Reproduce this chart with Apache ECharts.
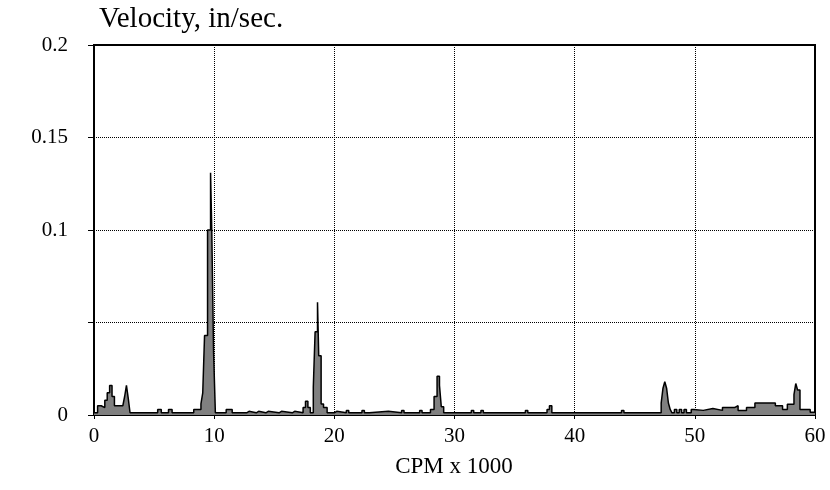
<!DOCTYPE html>
<html>
<head>
<meta charset="utf-8">
<script src="https://cdn.jsdelivr.net/npm/echarts@6/dist/echarts.min.js"></script>
<style>
  html, body { margin: 0; padding: 0; background: #fff; }
  #chart { width: 830px; height: 490px; }
</style>
</head>
<body>
<div id="chart"></div>
<script>
// spectrum breakpoints: frequency (CPM x 1000) and velocity held until next point
var freq = [0, 0.3, 0.6, 0.9, 1.1, 1.3, 1.5, 1.7, 2.4, 2.55, 2.7, 2.85, 3.0,
  5.3, 5.6, 6.2, 6.5, 8.3, 8.9, 9.05, 9.2, 9.45, 9.7, 9.8, 9.95, 10.1,
  11.0, 11.5, 12.7, 12.9, 13.5, 13.7, 14.3, 14.5, 15.4, 15.6, 16.5, 16.7,
  17.4, 17.6, 17.8, 18.0, 18.25, 18.4, 18.6, 18.7, 18.9, 19.1, 19.4,
  20.0, 20.2, 21.0, 21.2, 22.3, 22.5, 22.9, 24.5, 25.6, 25.8, 27.1, 27.3,
  28.0, 28.3, 28.55, 28.75, 28.9, 29.1, 31.4, 31.6, 32.2, 32.4, 35.9, 36.1,
  37.7, 37.9, 38.1, 43.9, 44.1, 47.2, 47.35, 47.5, 47.65, 47.8, 47.95, 48.1,
  48.3, 48.5, 48.7, 48.9, 49.1, 49.3, 49.7, 49.9, 50.7, 51.5, 52.3, 53.3,
  53.6, 54.3, 55.0, 56.7, 57.3, 57.7, 58.25, 58.4, 58.55, 58.75, 59.6, 60];
var vel = [0.0012, 0.005, 0.004, 0.008, 0.012, 0.016, 0.01, 0.005, 0.004, 0.01, 0.016, 0.009, 0.0012,
  0.003, 0.0012, 0.003, 0.0012, 0.003, 0.006, 0.012, 0.043, 0.1, 0.131, 0.1, 0.034, 0.0012,
  0.003, 0.0012, 0.002, 0.0012, 0.002, 0.0012, 0.002, 0.0012, 0.002, 0.0012, 0.002, 0.0012,
  0.004, 0.0075, 0.004, 0.0012, 0.015, 0.045, 0.061, 0.032, 0.006, 0.004, 0.0012,
  0.002, 0.0012, 0.0025, 0.0012, 0.0025, 0.0012, 0.002, 0.0012, 0.0025, 0.0012, 0.0025, 0.0012,
  0.003, 0.01, 0.021, 0.016, 0.0045, 0.0012, 0.0025, 0.0012, 0.0025, 0.0012, 0.0025, 0.0012,
  0.003, 0.005, 0.0012, 0.0025, 0.0012, 0.0065, 0.0145, 0.018, 0.0145, 0.0065, 0.003, 0.0012,
  0.003, 0.0012, 0.003, 0.0012, 0.003, 0.0012, 0.003, 0.0025, 0.0035, 0.0025, 0.004, 0.005,
  0.0025, 0.004, 0.0065, 0.005, 0.003, 0.0058, 0.011, 0.017, 0.0135, 0.003, 0.0015, 0.0012];
var yTicks = [0, 0.05, 0.1, 0.15, 0.2];
var yLabels = ['0', '', '0.1', '0.15', '0.2'];
var xTicks = [0, 10, 20, 30, 40, 50, 60];

var points = [];
for (var i = 0; i < freq.length; i++) {
  points.push([freq[i], vel[i]]);
}

var font = 'Liberation Serif';
var option = {
  animation: false,
  backgroundColor: '#fff',
  grid: {
    left: 94, right: 15, top: 45, bottom: 75,
    show: true, borderColor: '#000', borderWidth: 2
  },
  graphic: [
    {
      type: 'text', left: 99, top: 5,
      style: { text: 'Velocity, in/sec.', font: '29px "Liberation Serif"', fill: '#000' }
    },
    {
      type: 'text', x: 454, y: 467,
      style: { text: 'CPM x 1000', font: '23px "Liberation Serif"', fill: '#000',
        textAlign: 'center', textVerticalAlign: 'middle' }
    }
  ],
  xAxis: {
    type: 'value', min: 0, max: 60, interval: 10,
    axisLine: { lineStyle: { color: '#000', width: 2 } },
    axisTick: { show: true, length: 4, lineStyle: { color: '#000' } },
    axisLabel: {
      color: '#000', fontFamily: font, fontSize: 21, margin: 11,
      formatter: function (v) { return xTicks.indexOf(v) >= 0 ? String(v) : ''; }
    },
    splitLine: { show: true, lineStyle: { color: '#000', type: [1, 1], width: 1 } }
  },
  yAxis: {
    type: 'value', min: 0, max: 0.2, interval: 0.05,
    axisLine: { show: true, lineStyle: { color: '#000', width: 2 } },
    axisTick: { show: true, length: 6, lineStyle: { color: '#000' } },
    axisLabel: {
      color: '#000', fontFamily: font, fontSize: 21, margin: 26,
      formatter: function (v) {
        for (var k = 0; k < yTicks.length; k++) {
          if (Math.abs(yTicks[k] - v) < 1e-9) return yLabels[k];
        }
        return '';
      }
    },
    splitLine: { show: true, lineStyle: { color: '#000', type: [1, 1], width: 1 } }
  },
  series: [{
    type: 'line',
    step: 'end',
    data: points,
    showSymbol: false,
    lineStyle: { color: '#000', width: 1.5 },
    areaStyle: { color: '#808080', opacity: 1 }
  }]
};

var myChart = echarts.init(document.getElementById('chart'));
myChart.setOption(option);
</script>
</body>
</html>
